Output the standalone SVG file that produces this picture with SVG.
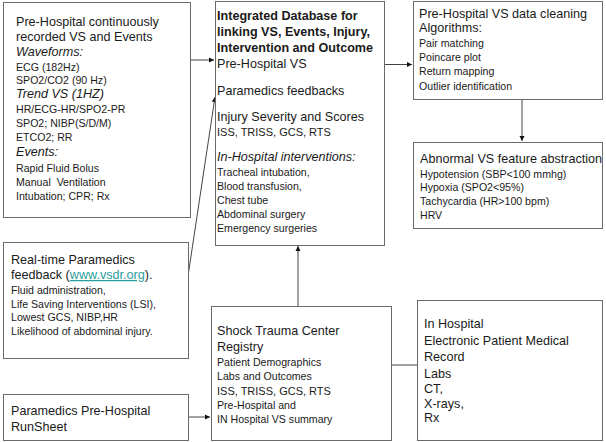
<svg xmlns="http://www.w3.org/2000/svg" width="606" height="442" viewBox="0 0 606 442">
<defs>
<marker id="ah" markerWidth="6" markerHeight="6" refX="5" refY="3" orient="auto" markerUnits="userSpaceOnUse">
<path d="M0,0.5 L5,3 L0,5.5 Z" fill="#111"/>
</marker>
<style>
rect.box{fill:#fff;stroke:#6a6a6a;stroke-width:1}
text{font-family:"Liberation Sans",Arial,sans-serif;fill:#1a1a1a}
.b{font-size:12.6px}
.s{font-size:10.6px}
.m{font-size:11px}
.i{font-style:italic}
.bold{font-weight:bold}
.c{stroke:#444;stroke-width:1;fill:none}
</style>
</defs>
<rect width="606" height="442" fill="#fff"/>
<g id="connectors">
<line class="c" x1="190" y1="60" x2="214" y2="60" marker-end="url(#ah)"/>
<line class="c" x1="384" y1="64.5" x2="412" y2="64.5" marker-end="url(#ah)"/>
<line class="c" x1="522" y1="99" x2="522" y2="141" marker-end="url(#ah)"/>
<line class="c" x1="188" y1="276" x2="215" y2="97" marker-end="url(#ah)"/>
<line class="c" x1="298" y1="307" x2="298" y2="246" marker-end="url(#ah)"/>
<line class="c" x1="188" y1="417" x2="210" y2="417" marker-end="url(#ah)"/>
<line class="c" x1="417" y1="365" x2="386" y2="365" marker-end="url(#ah)"/>
</g>
<g id="prehospital-vs">
<rect class="box" x="3.5" y="2.5" width="187" height="215"/>
<text class="b" x="16" y="26">Pre-Hospital continuously</text>
<text class="b" x="16" y="41">recorded VS and Events</text>
<text class="b i" x="16" y="55.5">Waveforms:</text>
<text class="s" x="16" y="70.5">ECG (182Hz)</text>
<text class="s" x="16" y="84">SPO2/CO2 (90 Hz)</text>
<text class="b i" x="16" y="98">Trend VS (1HZ)</text>
<text class="s" x="16" y="112.5">HR/ECG-HR/SPO2-PR</text>
<text class="s" x="16" y="126.5">SPO2; NIBP(S/D/M)</text>
<text class="s" x="16" y="140.5">ETCO2; RR</text>
<text class="b i" x="16" y="156">Events:</text>
<text class="s" x="16" y="172">Rapid Fluid Bolus</text>
<text class="s" x="16" y="186">Manual&#160; Ventilation</text>
<text class="s" x="16" y="200">Intubation; CPR; Rx</text>
</g>
<g id="integrated-db">
<rect class="box" x="215.5" y="1.5" width="169" height="244"/>
<text class="b bold" x="217" y="20">Integrated Database for</text>
<text class="b bold" x="217" y="36">linking VS, Events, Injury,</text>
<text class="b bold" x="217" y="52">Intervention and Outcome</text>
<text class="b" x="217" y="68">Pre-Hospital VS</text>
<text class="b" x="217" y="95">Paramedics feedbacks</text>
<text class="b" x="217" y="121">Injury Severity and Scores</text>
<text class="m" x="217" y="135.5">ISS, TRISS, GCS, RTS</text>
<text class="b i" x="217" y="161">In-Hospital interventions:</text>
<text class="s" x="217" y="176">Tracheal intubation,</text>
<text class="s" x="217" y="190">Blood transfusion,</text>
<text class="s" x="217" y="204">Chest tube</text>
<text class="s" x="217" y="218">Abdominal surgery</text>
<text class="s" x="217" y="232">Emergency surgeries</text>
</g>
<g id="data-cleaning">
<rect class="box" x="413.5" y="1.5" width="189" height="98"/>
<text class="b" x="419" y="18">Pre-Hospital VS data cleaning</text>
<text class="b" x="419" y="32">Algorithms:</text>
<text class="s" x="419" y="46.5">Pair matching</text>
<text class="s" x="419" y="61">Poincare plot</text>
<text class="s" x="419" y="75">Return mapping</text>
<text class="s" x="419" y="90">Outlier identification</text>
</g>
<g id="feature-abstraction">
<rect class="box" x="413.5" y="142.5" width="189" height="86"/>
<text class="b" x="420" y="163">Abnormal VS feature abstraction</text>
<text class="s" x="420" y="177.5">Hypotension (SBP&lt;100 mmhg)</text>
<text class="s" x="420" y="191">Hypoxia (SPO2&lt;95%)</text>
<text class="s" x="420" y="205">Tachycardia (HR&gt;100 bpm)</text>
<text class="s" x="420" y="219">HRV</text>
</g>
<g id="paramedics-feedback">
<rect class="box" x="3.5" y="242.5" width="185" height="116"/>
<text class="b" x="11" y="264">Real-time Paramedics</text>
<text class="b" x="11" y="279">feedback (<tspan fill="#2a9d9d" text-decoration="underline">www.vsdr.org</tspan>).</text>
<text class="s" x="11" y="293.5">Fluid administration,</text>
<text class="s" x="11" y="307.5">Life Saving Interventions (LSI),</text>
<text class="s" x="11" y="321">Lowest GCS, NIBP,HR</text>
<text class="s" x="11" y="335">Likelihood of abdominal injury.</text>
</g>
<g id="runsheet">
<rect class="box" x="3.5" y="394.5" width="185" height="46"/>
<text class="b" x="11" y="415">Paramedics Pre-Hospital</text>
<text class="b" x="11" y="431">RunSheet</text>
</g>
<g id="registry">
<rect class="box" x="211.5" y="306.5" width="180" height="134"/>
<text class="b" x="217" y="335">Shock Trauma Center</text>
<text class="b" x="217" y="351">Registry</text>
<text class="s" x="217" y="365.5">Patient Demographics</text>
<text class="s" x="217" y="380">Labs and Outcomes</text>
<text class="m" x="217" y="394.5">ISS, TRISS, GCS, RTS</text>
<text class="s" x="217" y="408.5">Pre-Hospital and</text>
<text class="s" x="217" y="422.5">IN Hospital VS summary</text>
</g>
<g id="epmr">
<rect class="box" x="417.5" y="300.5" width="185" height="140"/>
<text class="b" x="424" y="328">In Hospital</text>
<text class="b" x="424" y="345">Electronic Patient Medical</text>
<text class="b" x="424" y="361">Record</text>
<text class="b" x="424" y="377.5">Labs</text>
<text class="b" x="424" y="393">CT,</text>
<text class="b" x="424" y="407.5">X-rays,</text>
<text class="b" x="424" y="422">Rx</text>
</g>
</svg>
